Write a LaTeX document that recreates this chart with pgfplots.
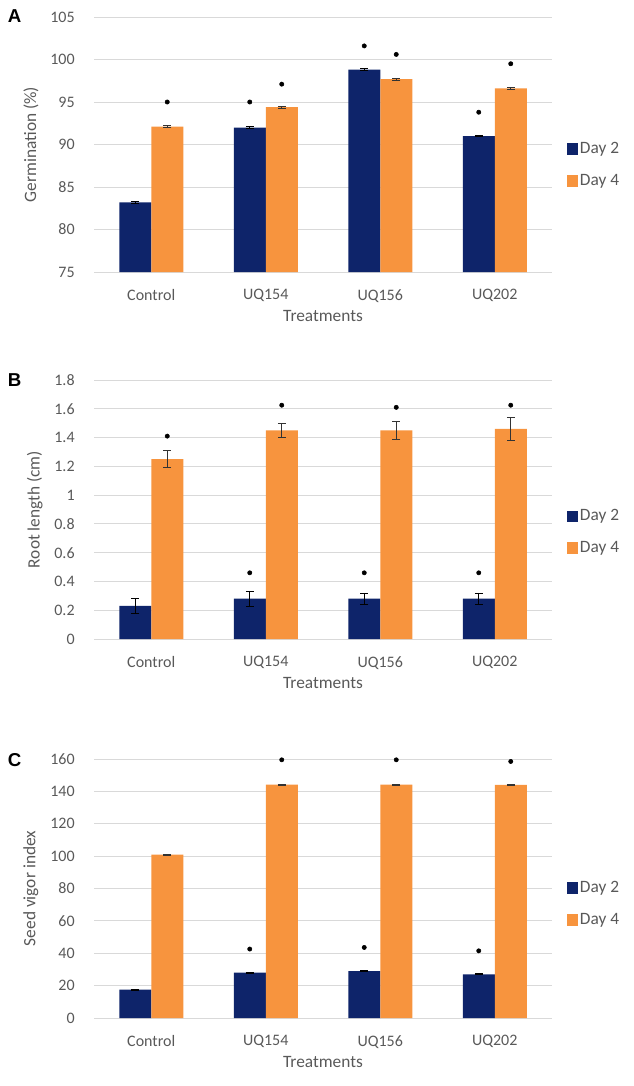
\documentclass[border=0pt]{standalone}
\usepackage{fontspec}
\setmainfont{Carlito}
\newfontfamily\arial{Liberation Sans}
\usepackage{pgfplots}
\pgfplotsset{compat=1.18}
\definecolor{navy}{RGB}{14,36,106}
\definecolor{orng}{RGB}{247,148,62}
\definecolor{txt}{RGB}{89,89,89}
\definecolor{gridc}{RGB}{217,217,217}
\pgfplotsset{
 panel/.style={
  scale only axis, width=343.5pt, height=194.25pt,
  xmin=-0.5, xmax=3.5, xtick={0,1,2,3}, xticklabels={Control,UQ154,UQ156,UQ202},
  axis line style={draw=none}, major tick length=0pt,
  ymajorgrids, grid style={gridc, line width=0.6pt},
  tick label style={font=\fontsize{12}{14}\selectfont, text=txt},
  xticklabel style={yshift=-9.5pt},
  yticklabel style={xshift=-11pt},
  label style={font=\fontsize{13}{15}\selectfont, text=txt},
  xlabel style={yshift=0.5pt},
  ylabel shift=2pt,
  /pgf/number format/assume math mode=true,
  xlabel=Treatments,
  legend style={draw=none, fill=none, font=\fontsize{13}{15}\selectfont, text=txt, anchor=west, row sep=10pt, inner sep=0pt},
  legend cell align=left,
  clip=false,
 },
 d2/.style={ybar, bar width=24pt, bar shift=0pt, xshift=-12pt, fill=navy, draw=none, forget plot,
   error bars/.cd, y dir=both, y explicit, error bar style={black, line width=0.6pt},
   error mark options={rotate=90, mark size=3pt, black, line width=0.6pt}},
 d4/.style={ybar, bar width=24pt, bar shift=0pt, xshift=12pt, fill=orng, draw=none, forget plot,
   error bars/.cd, y dir=both, y explicit, error bar style={black!80, line width=0.6pt},
   error mark options={rotate=90, mark size=3pt, black!80, line width=0.6pt}},
 sig2/.style={only marks, mark=*, mark size=1.6pt, black, forget plot, xshift=-12pt},
 sig4/.style={only marks, mark=*, mark size=1.6pt, black, forget plot, xshift=12pt},
}
\newcommand\legimgs{%
  \addlegendimage{legend image code/.code={\fill[navy] (0pt,-4pt) rectangle (7pt,4pt);}}
  \addlegendentry{Day 2}
  \addlegendimage{legend image code/.code={\fill[orng] (0pt,-4pt) rectangle (7pt,4pt);}}
  \addlegendentry{Day 4}}
\begin{document}
\begin{tikzpicture}
\useasboundingbox (0,0) rectangle (474.75pt,-814.5pt);
% Panel A
\begin{axis}[panel, height=191.25pt, at={(70.5pt,-204pt)}, anchor=south west,
  ymin=75, ymax=105, ytick={75,80,...,105}, ylabel={Germination (\%)},
  legend style={at={(rel axis cs:1.033,0.42)}}]
\addplot[d2] coordinates {(0,83.2) +- (0,0.1) (1,92.0) +- (0,0.1) (2,98.8) +- (0,0.1) (3,91.0) +- (0,0.1)};
\addplot[d4] coordinates {(0,92.1) +- (0,0.1) (1,94.4) +- (0,0.1) (2,97.7) +- (0,0.1) (3,96.6) +- (0,0.1)};
\addplot[sig2] coordinates {(1,95.0) (2,101.6) (3,93.8)};
\addplot[sig4] coordinates {(0,95.0) (1,97.1) (2,100.6) (3,99.5)};
\legimgs
\end{axis}
% Panel B
\begin{axis}[panel, at={(70.5pt,-479.25pt)}, anchor=south west,
  ymin=0, ymax=1.8, ytick={0,0.2,...,1.8}, ylabel={Root length (cm)},
  yticklabel style={/pgf/number format/.cd, fixed, precision=1},
  legend style={at={(rel axis cs:1.033,0.413)}}]
\addplot[d2] coordinates {(0,0.23) +- (0,0.05) (1,0.28) +- (0,0.05) (2,0.28) +- (0,0.04) (3,0.28) +- (0,0.04)};
\addplot[d4] coordinates {(0,1.25) +- (0,0.06) (1,1.45) +- (0,0.05) (2,1.45) +- (0,0.065) (3,1.46) +- (0,0.08)};
\addplot[sig2] coordinates {(1,0.46) (2,0.46) (3,0.46)};
\addplot[sig4] coordinates {(0,1.41) (1,1.625) (2,1.61) (3,1.625)};
\legimgs
\end{axis}
% Panel C
\begin{axis}[panel, at={(70.5pt,-763.5pt)}, anchor=south west,
  ymin=0, ymax=160, ytick={0,20,...,160}, ylabel={Seed vigor index},
  legend style={at={(rel axis cs:1.033,0.442)}}]
\addplot[d2] coordinates {(0,17.5) +- (0,0.3) (1,28) +- (0,0.3) (2,29) +- (0,0.3) (3,27) +- (0,0.3)};
\addplot[d4] coordinates {(0,101) +- (0,0.3) (1,144.2) +- (0,0.3) (2,144.2) +- (0,0.3) (3,144) +- (0,0.3)};
\addplot[sig2] coordinates {(1,42.6) (2,43.6) (3,41.5)};
\addplot[sig4] coordinates {(1,159.5) (2,159.5) (3,158.5)};
\legimgs
\end{axis}
\node[font=\arial\bfseries\fontsize{14}{16}\selectfont, anchor=center] at (11pt,-12pt) {A};
\node[font=\arial\bfseries\fontsize{14}{16}\selectfont, anchor=center] at (11pt,-285pt) {B};
\node[font=\arial\bfseries\fontsize{14}{16}\selectfont, anchor=center] at (11pt,-570pt) {C};
\end{tikzpicture}
\end{document}
